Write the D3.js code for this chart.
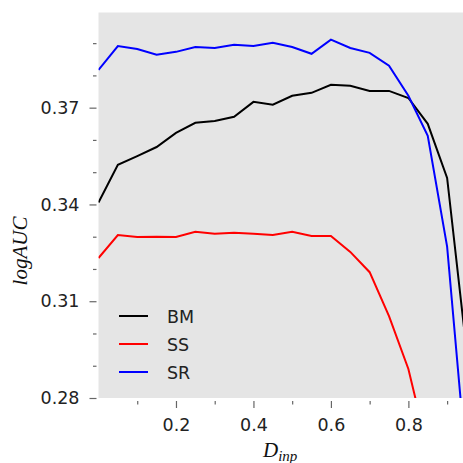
<!DOCTYPE html>
<html>
<head>
<meta charset="utf-8">
<title>logAUC vs D_inp</title>
<script src="https://d3js.org/d3.v7.min.js"></script>
<style>
  body { margin: 0; background: #fff; }
  svg { display: block; }
  .tick-label { font-family: "DejaVu Sans", sans-serif; font-size: 17.5px; fill: #222; }
  .math { font-family: "Liberation Serif", "DejaVu Serif", serif; font-style: italic; fill: #111; }
</style>
</head>
<body>
<svg id="chart" width="463" height="463"></svg>
<script>
// chart values
const dinp = [0, 0.05, 0.1, 0.15, 0.2, 0.25, 0.3, 0.35, 0.4, 0.45, 0.5,
              0.55, 0.6, 0.65, 0.7, 0.75, 0.8, 0.85, 0.9, 0.95];
const bm = [0.3406, 0.3523, 0.3550, 0.3578, 0.3622, 0.3653, 0.3659, 0.3672, 0.3718, 0.3709, 0.3737,
            0.3746, 0.3771, 0.3768, 0.3752, 0.3752, 0.3730, 0.3650, 0.3482, 0.2950];
const ss = [0.3234, 0.3305, 0.3299, 0.3300, 0.3299, 0.3315, 0.3309, 0.3312, 0.3309, 0.3305, 0.3315,
            0.3302, 0.3302, 0.3253, 0.3190, 0.3054, 0.2890, 0.2640, 0.2500, 0.2400];
const sr = [0.3817, 0.3891, 0.3882, 0.3864, 0.3873, 0.3888, 0.3885, 0.3895, 0.3891, 0.3901, 0.3888,
            0.3867, 0.3911, 0.3885, 0.3870, 0.3830, 0.3737, 0.3613, 0.3269, 0.2590];
const seriesNames = ["BM", "SS", "SR"];
const seriesColors = ["#000000", "#ff0000", "#0000ff"];
const xTicks = [0.2, 0.4, 0.6, 0.8];
const xMinor = [0.1, 0.3, 0.5, 0.7, 0.9];
const yTicks = [0.28, 0.31, 0.34, 0.37];
const yMinor = [0.29, 0.30, 0.32, 0.33, 0.35, 0.36, 0.38, 0.39];

const svg = d3.select("#chart");
const mLeft = 98.5, mRight = 463, mTop = 12.5, mBottom = 398;

const x = d3.scaleLinear().domain([0, 0.941]).range([mLeft, mRight]);
const y = d3.scaleLinear().domain([0.28, 0.3995]).range([mBottom, mTop]);

svg.append("defs").append("clipPath").attr("id", "plotclip")
  .append("rect").attr("x", mLeft).attr("y", mTop)
  .attr("width", mRight - mLeft).attr("height", mBottom - mTop);

svg.append("rect")
  .attr("x", mLeft).attr("y", mTop)
  .attr("width", mRight - mLeft).attr("height", mBottom - mTop)
  .attr("fill", "#e5e5e5");

// axes (no domain line, ticks offset from the plot)
const yAxis = d3.axisLeft(y).tickValues(yTicks).tickFormat(d3.format(".2f"))
  .tickSize(7).tickPadding(10);
const gy = svg.append("g").attr("transform", `translate(${mLeft - 2},0)`).call(yAxis);
const yMinorAxis = d3.axisLeft(y).tickValues(yMinor).tickFormat("").tickSize(3.5);
const gy2 = svg.append("g").attr("transform", `translate(${mLeft - 2},0)`).call(yMinorAxis);

const xAxis = d3.axisBottom(x).tickValues(xTicks).tickFormat(d3.format(".1f"))
  .tickSize(7).tickPadding(11);
const gx = svg.append("g").attr("transform", `translate(0,${mBottom + 3})`).call(xAxis);
const xMinorAxis = d3.axisBottom(x).tickValues(xMinor).tickFormat("").tickSize(3.5);
const gx2 = svg.append("g").attr("transform", `translate(0,${mBottom + 3})`).call(xMinorAxis);

[gy, gy2, gx, gx2].forEach(g => {
  g.attr("font-size", null).attr("font-family", null);
  g.select(".domain").remove();
  g.selectAll(".tick line").attr("stroke", "#666").attr("stroke-width", 1.2);
  g.selectAll(".tick text").attr("class", "tick-label");
});

// lines
const allSeries = [bm, ss, sr];
const line = d3.line().x((d, i) => x(dinp[i])).y(d => y(d));
svg.append("g").attr("clip-path", "url(#plotclip)")
  .selectAll("path")
  .data(allSeries)
  .join("path")
  .attr("d", d => line(d))
  .attr("fill", "none")
  .attr("stroke", (d, i) => seriesColors[i])
  .attr("stroke-width", 2)
  .attr("stroke-linejoin", "miter");

// legend
const legend = svg.append("g").selectAll("g")
  .data(seriesNames)
  .join("g")
  .attr("transform", (d, i) => `translate(119,${316 + i * 28})`);
legend.append("line")
  .attr("x1", 0).attr("x2", 29)
  .attr("stroke", (d, i) => seriesColors[i])
  .attr("stroke-width", 2);
legend.append("text")
  .attr("class", "tick-label")
  .attr("x", 48).attr("y", 7)
  .text(d => d);

// axis labels
svg.append("text").attr("class", "math")
  .attr("transform", "translate(27,251) rotate(-90)")
  .attr("text-anchor", "middle")
  .attr("font-size", 21)
  .text("logAUC");

const xl = svg.append("text").attr("class", "math")
  .attr("x", 263).attr("y", 457)
  .attr("font-size", 21);
xl.append("tspan").text("D");
xl.append("tspan").attr("font-size", 15).attr("dy", 4).text("inp");
</script>
</body>
</html>
